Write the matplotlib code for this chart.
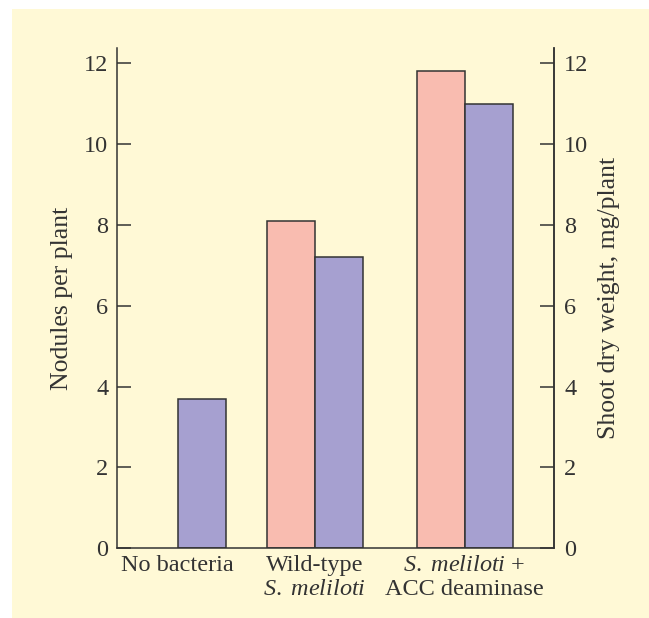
import matplotlib
matplotlib.use('Agg')
import matplotlib.pyplot as plt
import numpy as np

# data
groups = ['No bacteria', 'Wild-type\n$\\mathit{S.\\ meliloti}$', '$\\mathit{S.\\ meliloti}$ +\nACC deaminase']
nodules = [0.0, 8.1, 11.8]        # left axis, pink
shoot_weight = [3.7, 7.2, 11.0]   # right axis, purple
yticks = [0, 2, 4, 6, 8, 10, 12]

plt.rcParams['font.family'] = ['Liberation Serif', 'DejaVu Serif']
plt.rcParams['mathtext.fontset'] = 'custom'
plt.rcParams['mathtext.rm'] = 'Liberation Serif'
plt.rcParams['mathtext.it'] = 'Liberation Serif:italic'

bg = '#fff9d6'
pink = '#f9bcb0'
purple = '#a6a0d0'
ink = '#333333'
fs = 17.5

fig = plt.figure(figsize=(6.49, 6.18), dpi=100)
fig.patches.append(plt.Rectangle((12 / 649, 0), 1, 1 - 9 / 618, transform=fig.transFigure,
                                 facecolor=bg, edgecolor='none', zorder=-10))

ax = fig.add_axes([116.7 / 649, 69.7 / 618, (554.3 - 116.7) / 649, (548.3 - 48) / 618])
ax.patch.set_alpha(0)

# group centres (uneven spacing in the original), bar width = 1
centres = np.array([1.27, 4.13, 7.25])
w = 1.0
ax.bar(centres - w / 2, nodules, width=w, color=pink, edgecolor=ink, linewidth=1.1)
ax.bar(centres + w / 2, shoot_weight, width=w, color=purple, edgecolor=ink, linewidth=1.1)
# no nodules without bacteria -> hide that empty pink bar's edge
ax.patches[0].set_visible(False)

ax.set_xlim(0, 9.12)
ax.set_ylim(0, 12.38)
ax.set_yticks(yticks)
ax.set_xticks(centres)
ax.set_xticklabels(groups, fontsize=fs, color=ink, linespacing=1.15)
ax.tick_params(axis='x', length=0, pad=5)
ax.tick_params(axis='y', direction='in', length=10, width=1.1, color=ink, labelsize=fs,
               labelcolor=ink, pad=6)
ax.set_ylabel('Nodules per plant', fontsize=18.5, color=ink, labelpad=8)

for s in ['left', 'right', 'bottom']:
    ax.spines[s].set_color(ink)
    ax.spines[s].set_linewidth(1.1)
ax.spines['top'].set_visible(False)

ax2 = ax.twinx()
ax2.set_ylim(0, 12.38)
ax2.set_yticks(yticks)
ax2.tick_params(axis='y', direction='in', length=10, width=1.1, color=ink, labelsize=fs,
                labelcolor=ink, pad=7)
ax2.set_ylabel('Shoot dry weight, mg/plant', fontsize=18.5, color=ink, labelpad=7)
for s in ['left', 'top', 'bottom']:
    ax2.spines[s].set_visible(False)
ax2.spines['right'].set_color(ink)
ax2.spines['right'].set_linewidth(1.1)

fig.savefig('out.png', dpi=100, facecolor='white')
